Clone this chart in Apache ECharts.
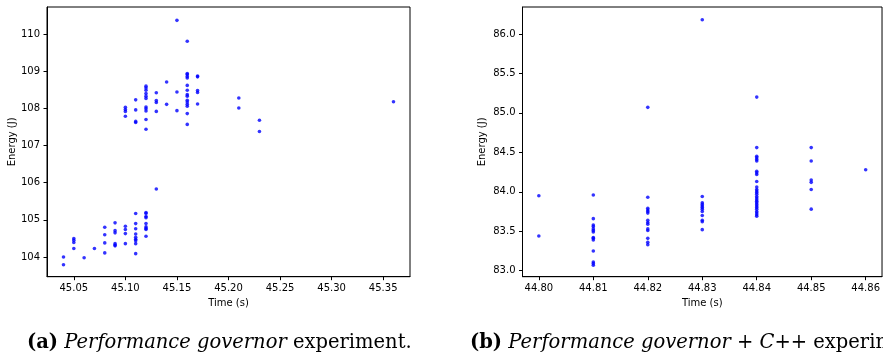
<!DOCTYPE html>
<html>
<head>
<meta charset="utf-8">
<script src="https://cdn.jsdelivr.net/npm/echarts@6/dist/echarts.min.js"></script>
<style>
html,body{margin:0;padding:0;background:#fff;}
#chart{width:883px;height:354px;}
</style>
</head>
<body>
<div id="chart"></div>
<script>
// ---- Data: (a) Performance governor experiment ----
const timeA = [
  45.04,45.04,
  45.05,45.05,45.05,45.05,
  45.06,
  45.07,
  45.08,45.08,45.08,45.08,
  45.09,45.09,45.09,45.09,45.09,45.09,
  45.10,45.10,45.10,45.10,
  45.11,45.11,45.11,45.11,45.11,45.11,45.11,45.11,45.11,
  45.12,45.12,45.12,45.12,45.12,45.12,45.12,45.12,45.12,
  45.13,
  45.10,45.10,45.10,45.10,
  45.11,45.11,45.11,45.11,
  45.12,45.12,45.12,45.12,45.12,45.12,45.12,45.12,45.12,45.12,45.12,
  45.13,45.13,45.13,45.13,
  45.14,45.14,
  45.15,45.15,45.15,
  45.16,45.16,45.16,45.16,45.16,45.16,45.16,45.16,45.16,45.16,45.16,45.16,45.16,45.16,45.16,
  45.17,45.17,45.17,45.17,45.17,
  45.21,45.21,
  45.23,45.23,
  45.36
];
const energyA = [
  104.00,103.79,
  104.50,104.45,104.39,104.23,
  103.98,
  104.23,
  104.80,104.60,104.38,104.11,
  104.92,104.71,104.65,104.36,104.32,104.30,
  104.83,104.74,104.63,104.36,
  105.17,104.90,104.76,104.62,104.53,104.48,104.44,104.36,104.09,
  105.20,105.17,105.09,105.06,104.90,104.81,104.77,104.74,104.56,
  105.83,
  108.03,107.97,107.92,107.79,
  108.23,107.96,107.65,107.62,
  108.60,108.55,108.49,108.40,108.33,108.27,108.04,107.99,107.93,107.70,107.44,
  108.42,108.21,108.16,107.92,
  108.71,108.11,
  110.37,108.44,107.94,
  109.81,108.94,108.91,108.86,108.82,108.62,108.49,108.37,108.33,108.22,108.17,108.11,108.06,107.86,107.57,
  108.87,108.85,108.48,108.43,108.12,
  108.28,108.01,
  107.68,107.38,
  108.18
];
const xTicksA = [45.05,45.10,45.15,45.20,45.25,45.30,45.35];
const yTicksA = [104,105,106,107,108,109,110];

// ---- Data: (b) Performance governor + C++ experiment ----
const timeB = [
  44.80,44.80,
  44.81,44.81,44.81,44.81,44.81,44.81,44.81,44.81,44.81,44.81,44.81,44.81,44.81,44.81,
  44.82,44.82,44.82,44.82,44.82,44.82,44.82,44.82,44.82,44.82,44.82,44.82,44.82,44.82,
  44.83,44.83,44.83,44.83,44.83,44.83,44.83,44.83,44.83,44.83,44.83,44.83,
  44.84,44.84,44.84,44.84,44.84,44.84,44.84,44.84,44.84,44.84,44.84,44.84,44.84,44.84,44.84,44.84,44.84,44.84,44.84,44.84,44.84,44.84,44.84,44.84,44.84,44.84,44.84,44.84,
  44.85,44.85,44.85,44.85,44.85,44.85,
  44.86
];
const energyB = [
  83.95,83.44,
  83.96,83.66,83.58,83.56,83.53,83.51,83.49,83.42,83.41,83.39,83.25,83.11,83.09,83.07,
  85.07,83.93,83.79,83.77,83.75,83.73,83.64,83.61,83.59,83.53,83.51,83.41,83.36,83.33,
  86.18,83.94,83.86,83.84,83.82,83.80,83.78,83.75,83.70,83.64,83.62,83.52,
  85.20,84.56,84.45,84.43,84.41,84.39,84.26,84.24,84.22,84.13,84.06,84.03,84.01,83.99,83.97,83.94,83.92,83.90,83.88,83.86,83.84,83.82,83.80,83.78,83.75,83.73,83.71,83.69,
  84.56,84.39,84.15,84.12,84.03,83.78,
  84.28
];
const xTicksB = [44.80,44.81,44.82,44.83,44.84,44.85,44.86];
const yTicksB = [83.0,83.5,84.0,84.5,85.0,85.5,86.0];

const pairs = (xs, ys) => xs.map((x, i) => [x, ys[i]]);

const tickFont = { fontFamily: 'DejaVu Sans', fontSize: 10, color: '#000' };
const axisLineStyle = { show: true, lineStyle: { color: '#000', width: 1 } };

function xAxisDef(gridIndex, min, max, ticks, digits) {
  return {
    type: 'value', gridIndex, min, max,
    name: 'Time (s)', nameLocation: 'middle', nameGap: 22,
    nameTextStyle: { fontFamily: 'DejaVu Sans', fontSize: 10, color: '#000' },
    axisLine: axisLineStyle,
    axisTick: { show: true, length: 3.5, inside: false, customValues: ticks, lineStyle: { color: '#000' } },
    axisLabel: { ...tickFont, margin: 7, customValues: ticks, formatter: v => v.toFixed(digits) },
    splitLine: { show: false }
  };
}
function yAxisDef(gridIndex, min, max, ticks, digits, gap) {
  return {
    type: 'value', gridIndex, min, max,
    name: 'Energy (J)', nameLocation: 'middle', nameGap: gap, nameRotate: 90,
    nameTextStyle: { fontFamily: 'DejaVu Sans', fontSize: 10, color: '#000' },
    axisLine: axisLineStyle,
    axisTick: { show: true, length: 3.5, inside: false, customValues: ticks, lineStyle: { color: '#000' } },
    axisLabel: { ...tickFont, margin: 7, customValues: ticks, formatter: v => v.toFixed(digits) },
    splitLine: { show: false }
  };
}

const capRich = {
  b: { fontFamily: 'DejaVu Serif', fontWeight: 'bold', fontSize: 19.5, fill: '#000' },
  i: { fontFamily: 'DejaVu Serif', fontStyle: 'italic', fontSize: 19.5, fill: '#000' },
  r: { fontFamily: 'DejaVu Serif', fontSize: 19.5, fill: '#000' }
};

const chart = echarts.init(document.getElementById('chart'), null, { renderer: 'canvas' });
chart.setOption({
  animation: false,
  backgroundColor: '#fff',
  grid: [
    { left: 47, top: 7, width: 363, height: 269.7, show: true, borderColor: '#000', borderWidth: 1, backgroundColor: 'transparent' },
    { left: 522.5, top: 7, width: 362.7, height: 269.7, show: true, borderColor: '#000', borderWidth: 1, backgroundColor: 'transparent' }
  ],
  xAxis: [
    xAxisDef(0, 45.024, 45.376, xTicksA, 2),
    xAxisDef(1, 44.797, 44.863, xTicksB, 2)
  ],
  yAxis: [
    yAxisDef(0, 103.47, 110.73, yTicksA, 0, 30),
    yAxisDef(1, 82.924, 86.342, yTicksB, 1, 35)
  ],
  series: [
    { type: 'scatter', xAxisIndex: 0, yAxisIndex: 0, data: pairs(timeA, energyA), symbolSize: 3.6, itemStyle: { color: '#0000ff' } },
    { type: 'scatter', xAxisIndex: 1, yAxisIndex: 1, data: pairs(timeB, energyB), symbolSize: 3.6, itemStyle: { color: '#0000ff' } }
  ],
  graphic: [
    {
      type: 'text', left: 27, top: 332.5,
      style: { text: '{b|(a)} {i|Performance governor} {r|experiment.}', rich: capRich, font: '19.5px "DejaVu Serif"' }
    },
    {
      type: 'text', left: 470, top: 332.5,
      style: { text: '{b|(b)} {i|Performance governor} {r|+} {i|C++} {r|experiment.}', rich: capRich, font: '19.5px "DejaVu Serif"' }
    }
  ]
});
</script>
</body>
</html>
